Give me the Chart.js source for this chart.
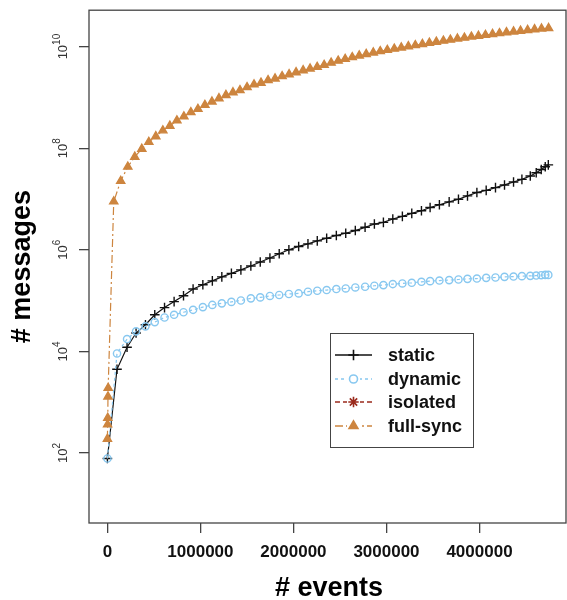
<!DOCTYPE html>
<html>
<head>
<meta charset="utf-8">
<script src="https://cdn.jsdelivr.net/npm/chart.js@4/dist/chart.umd.min.js"></script>
<style>
  html, body { margin: 0; padding: 0; background: #fff; }
</style>
</head>
<body>
<canvas id="messagesChart" width="567" height="600"></canvas>
<script>
// static and dynamic runs were logged at the same event counts
const sampledEvents = [0, 103000, 211000, 308000, 409000, 509000, 614000, 717000, 818000, 921000,
    1026000, 1128000, 1230000, 1333000, 1435000, 1542000, 1643000, 1747000, 1847000, 1951000,
    2056000, 2156000, 2256000, 2357000, 2461000, 2562000, 2665000, 2770000, 2870000, 2967000,
    3068000, 3171000, 3272000, 3376000, 3469000, 3569000, 3674000, 3774000, 3871000, 3972000,
    4072000, 4172000, 4269000, 4366000, 4456000, 4546000, 4610000, 4664000, 4707000, 4740000];

const staticMsgs = [78, 4440, 12100, 23000, 33500, 52500, 72800, 95500, 124700, 168700,
    204600, 244900, 293100, 342800, 401800, 480800, 575400, 688600, 835600, 1.0e6,
    1.164e6, 1.309e6, 1.50e6, 1.69e6, 1.91e6, 2.12e6, 2.39e6, 2.77e6, 3.21e6, 3.47e6,
    4.03e6, 4.54e6, 5.20e6, 5.88e6, 6.81e6, 7.69e6, 8.79e6, 9.89e6, 1.15e7, 1.34e7,
    1.48e7, 1.67e7, 1.89e7, 2.16e7, 2.43e7, 2.83e7, 3.28e7, 3.80e7, 4.30e7, 4.70e7];

const dynamicMsgs = [78, 9100, 17500, 24800, 31100, 37700, 46500, 52500, 59000, 65800,
    74500, 82200, 88300, 94200, 100500, 110700, 115600, 123300, 128800, 134900,
    138400, 149600, 156300, 161400, 168700, 173400, 181600, 187100, 195900, 201800,
    211400, 217300, 223900, 234400, 241600, 248300, 252900, 260000, 267900, 271600,
    280500, 284500, 293100, 297200, 302700, 306900, 311200, 316200, 320600, 320600];

// isolated is in the legend but none of its marks show in the picture
const isolatedEvents = [];
const isolatedMsgs = [];

const fullSyncEvents = [0, 2000, 4000, 6000, 8000,
    68000, 143000, 219000, 294000, 370000, 445000, 520000, 596000, 671000, 747000,
    822000, 897000, 973000, 1048000, 1124000, 1199000, 1274000, 1350000, 1425000, 1501000,
    1576000, 1651000, 1727000, 1802000, 1878000, 1953000, 2028000, 2104000, 2179000, 2255000,
    2330000, 2405000, 2481000, 2556000, 2632000, 2707000, 2782000, 2858000, 2933000, 3009000,
    3084000, 3159000, 3235000, 3310000, 3386000, 3461000, 3536000, 3612000, 3687000, 3763000,
    3838000, 3913000, 3989000, 4064000, 4140000, 4215000, 4290000, 4366000, 4441000, 4517000,
    4592000, 4667000, 4743000];

const fullSyncMsgs = [190, 363, 490, 1290, 1905,
    8.91e6, 2.26e7, 4.30e7, 6.73e7, 9.66e7, 1.32e8, 1.71e8, 2.23e8, 2.75e8, 3.50e8,
    4.19e8, 5.08e8, 5.90e8, 7.06e8, 8.22e8, 9.55e8, 1.11e9, 1.25e9, 1.38e9, 1.58e9,
    1.79e9, 1.93e9, 2.17e9, 2.34e9, 2.60e9, 2.84e9, 3.11e9, 3.40e9, 3.67e9, 3.96e9,
    4.34e9, 4.79e9, 5.25e9, 5.69e9, 6.17e9, 6.64e9, 7.11e9, 7.59e9, 8.07e9, 8.55e9,
    9.04e9, 9.55e9, 1.01e10, 1.06e10, 1.12e10, 1.18e10, 1.24e10, 1.30e10, 1.36e10, 1.43e10,
    1.49e10, 1.56e10, 1.62e10, 1.69e10, 1.76e10, 1.83e10, 1.90e10, 1.97e10, 2.04e10, 2.11e10,
    2.18e10, 2.25e10, 2.30e10];

const eventTicks = [0, 1000000, 2000000, 3000000, 4000000];
const messageTicks = [1e2, 1e4, 1e6, 1e8, 1e10];
const seriesNames = ['static', 'dynamic', 'isolated', 'full-sync'];

const FONT = "'Liberation Sans', Arial, Helvetica, sans-serif";
const AXIS_COLOR = '#444';

function toPoints(xs, ys) {
    return xs.map((x, i) => ({ x: x, y: ys[i] }));
}

const seriesStyles = [
    { color: '#111111', dash: [], pointStyle: 'cross', radius: 4.8, fill: 'rgba(0,0,0,0)', order: 3 },
    { color: '#88c8f0', dash: [3, 3], pointStyle: 'circle', radius: 3.6, fill: 'rgba(0,0,0,0)', order: 2 },
    { color: '#9a2a1c', dash: [5, 3], pointStyle: 'star', radius: 4.8, fill: 'rgba(0,0,0,0)', order: 1 },
    { color: '#cd853f', dash: [8, 3, 2, 3], pointStyle: 'triangle', radius: 4.7, fill: '#cd853f', order: 0 }
];

const seriesData = [
    toPoints(sampledEvents, staticMsgs),
    toPoints(sampledEvents, dynamicMsgs),
    toPoints(isolatedEvents, isolatedMsgs),
    toPoints(fullSyncEvents, fullSyncMsgs)
];

const datasets = seriesNames.map((name, i) => {
    const s = seriesStyles[i];
    return {
        label: name,
        data: seriesData[i],
        order: s.order,
        borderColor: s.color,
        backgroundColor: s.fill,
        borderWidth: 1.2,
        borderDash: s.dash,
        pointStyle: s.pointStyle,
        pointRadius: s.radius,
        pointBorderColor: s.color,
        pointBackgroundColor: s.fill,
        pointBorderWidth: 1.4,
        pointHoverRadius: s.radius,
        tension: 0,
        fill: false
    };
});

// box round the plot, rotated 10^n labels, axis titles and the R-style legend
const decorations = {
    id: 'decorations',
    beforeDraw(chart) {
        const ctx = chart.ctx;
        ctx.save();
        ctx.fillStyle = '#fff';
        ctx.fillRect(0, 0, chart.width, chart.height);
        ctx.restore();
    },
    afterDraw(chart) {
        const ctx = chart.ctx;
        const area = chart.chartArea;
        const yScale = chart.scales.y;

        ctx.save();
        ctx.strokeStyle = AXIS_COLOR;
        ctx.lineWidth = 1.3;
        ctx.strokeRect(area.left, area.top, area.right - area.left, area.bottom - area.top);

        // y tick labels: 10 with superscript exponent, turned 90 degrees
        ctx.fillStyle = '#333';
        messageTicks.forEach(v => {
            const y = yScale.getPixelForValue(v);
            const exp = String(Math.round(Math.log10(v)));
            ctx.save();
            ctx.translate(67, y);
            ctx.rotate(-Math.PI / 2);
            ctx.textBaseline = 'alphabetic';
            ctx.textAlign = 'left';
            ctx.font = '13px ' + FONT;
            const wb = ctx.measureText('10').width;
            ctx.font = '10px ' + FONT;
            const we = ctx.measureText(exp).width;
            const start = -(wb + we) / 2;
            ctx.font = '13px ' + FONT;
            ctx.fillText('10', start, 0);
            ctx.font = '10px ' + FONT;
            ctx.fillText(exp, start + wb, -7);
            ctx.restore();
        });

        // axis titles
        ctx.fillStyle = '#000';
        ctx.font = 'bold 27px ' + FONT;
        ctx.textAlign = 'center';
        ctx.textBaseline = 'alphabetic';
        ctx.fillText('# events', 329, 596);
        ctx.save();
        ctx.translate(30, (area.top + area.bottom) / 2);
        ctx.rotate(-Math.PI / 2);
        ctx.fillText('# messages', 0, 0);
        ctx.restore();

        // legend
        const box = { x: 330.5, y: 333.5, w: 143, h: 114 };
        ctx.strokeStyle = AXIS_COLOR;
        ctx.lineWidth = 1;
        ctx.setLineDash([]);
        ctx.strokeRect(box.x, box.y, box.w, box.h);
        const rowY = [355, 379, 402, 426];
        seriesNames.forEach((name, i) => {
            const s = seriesStyles[i];
            const y = rowY[i];
            ctx.strokeStyle = s.color;
            ctx.lineWidth = 1.3;
            ctx.setLineDash(s.dash);
            ctx.beginPath();
            ctx.moveTo(335, y);
            ctx.lineTo(372, y);
            ctx.stroke();
            ctx.setLineDash([]);
            ctx.fillStyle = '#fff';
            if (s.dash.length) ctx.fillRect(347, y - 6, 13, 12);
            ctx.fillStyle = s.fill;
            ctx.lineWidth = 1.6;
            Chart.helpers.drawPoint(ctx, {
                pointStyle: s.pointStyle, radius: s.radius + 0.4, rotation: 0, borderWidth: 1.6
            }, 353.5, y);
            ctx.fillStyle = '#111';
            ctx.font = 'bold 18px ' + FONT;
            ctx.textAlign = 'left';
            ctx.textBaseline = 'middle';
            ctx.fillText(name, 388, y + 1);
        });
        ctx.restore();
    }
};

new Chart(document.getElementById('messagesChart'), {
    type: 'line',
    data: { datasets: datasets },
    options: {
        responsive: false,
        animation: false,
        devicePixelRatio: 1,
        layout: { autoPadding: false, padding: { top: 6, right: 1, left: 0, bottom: 0 } },
        plugins: {
            legend: { display: false },
            tooltip: { enabled: false }
        },
        scales: {
            x: {
                type: 'linear',
                min: -198000,
                max: 4930000,
                afterBuildTicks: scale => { scale.ticks = eventTicks.map(v => ({ value: v })); },
                afterFit: scale => { scale.height = 77; },
                ticks: {
                    color: '#111',
                    font: { family: FONT, weight: 'bold', size: 17 },
                    padding: 9,
                    maxRotation: 0,
                    autoSkip: false,
                    callback: v => String(v)
                },
                grid: { drawOnChartArea: false, drawTicks: true, tickLength: 10, color: AXIS_COLOR, lineWidth: 1.3 },
                border: { display: false }
            },
            y: {
                type: 'logarithmic',
                min: 4.19,
                max: 5.2e10,
                afterBuildTicks: scale => { scale.ticks = messageTicks.map(v => ({ value: v })); },
                afterFit: scale => { scale.width = 89; },
                ticks: { callback: () => '' },
                grid: { drawOnChartArea: false, drawTicks: true, tickLength: 10, color: AXIS_COLOR, lineWidth: 1.3 },
                border: { display: false }
            }
        }
    },
    plugins: [decorations]
});
</script>
</body>
</html>
